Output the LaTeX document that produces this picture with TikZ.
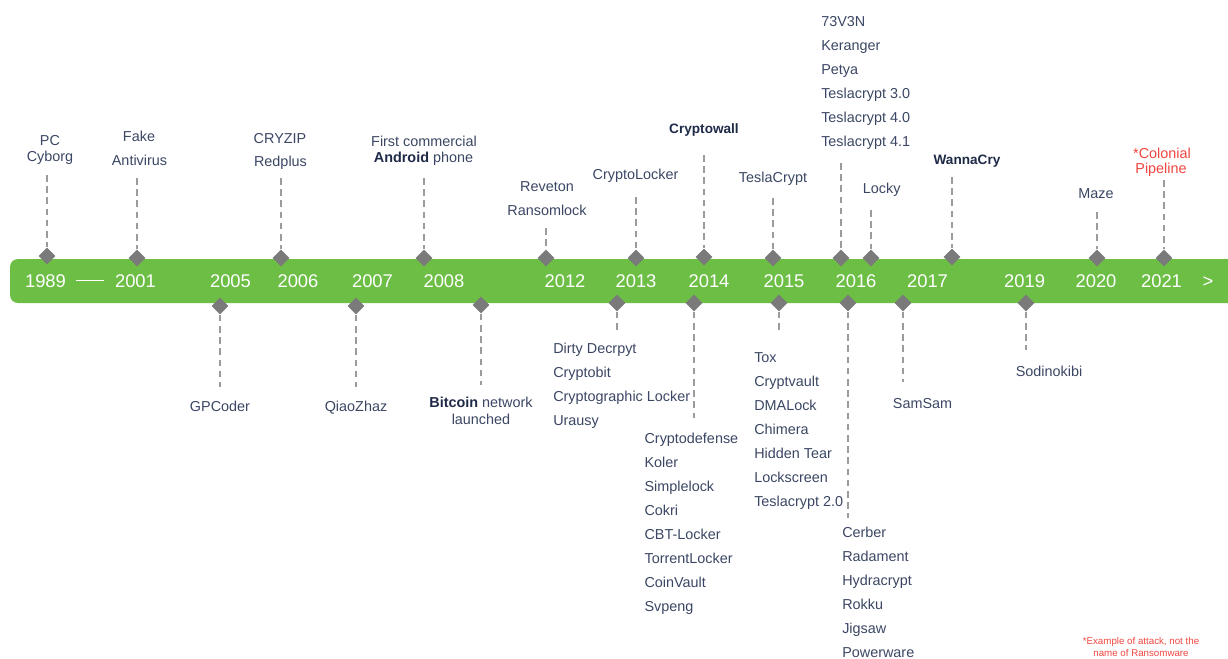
\documentclass[tikz,border=0pt]{standalone}
\usepackage{fontspec}
\setmainfont{Liberation Sans}
\usetikzlibrary{shapes.geometric}
\definecolor{barg}{HTML}{6CBE45}
\definecolor{txt}{HTML}{3A4663}
\definecolor{txtdark}{HTML}{1E2A47}
\definecolor{redtxt}{HTML}{F0453F}
\definecolor{mkgray}{HTML}{7A7A7A}
\definecolor{dashgray}{HTML}{9B9B9B}
\tikzset{
  lbl/.style={font=\fontsize{10.8}{13}\selectfont, text=txt, inner sep=0pt, anchor=base},
  lbll/.style={lbl, anchor=base west},
  bld/.style={lbl, font=\fontsize{10.2}{13}\selectfont\bfseries, text=txtdark},
  redlbl/.style={lbl, text=redtxt},
  note/.style={font=\fontsize{7.3}{9}\selectfont, text=redtxt, inner sep=0pt, anchor=base},
  yr/.style={font=\fontsize{13.8}{16}\selectfont, text=white, inner sep=0pt, anchor=base},
  mk/.style={diamond, fill=mkgray, minimum width=12.8pt, minimum height=12.8pt, inner sep=0pt, aspect=1},
  conn/.style={draw=dashgray, line width=1.5pt, dash pattern=on 5pt off 3.4pt}
}
\begin{document}
\begin{tikzpicture}[x=0.75pt,y=-0.75pt]
\useasboundingbox (0,0) rectangle (1228,658);
\begin{scope}
\clip (0,0) rectangle (1228,658);
\fill[barg, rounded corners=6pt] (10,259) rectangle (1250,303);
\end{scope}

% years
\node[yr] (y1989) at (45.5,287.7) {1989};
\node[yr] (ydash) at (90,287.7) {\rule[5pt]{21pt}{1.1pt}};
\node[yr] (y2001) at (135.5,287.7) {2001};
\node[yr] (y2005) at (230.5,287.7) {2005};
\node[yr] (y2006) at (298,287.7) {2006};
\node[yr] (y2007) at (372.5,287.7) {2007};
\node[yr] (y2008) at (444,287.7) {2008};
\node[yr] (y2012) at (565,287.7) {2012};
\node[yr] (y2013) at (636,287.7) {2013};
\node[yr] (y2014) at (709,287.7) {2014};
\node[yr] (y2015) at (784,287.7) {2015};
\node[yr] (y2016) at (856,287.7) {2016};
\node[yr] (y2017) at (927.5,287.7) {2017};
\node[yr] (y2019) at (1024.7,287.7) {2019};
\node[yr] (y2020) at (1096,287.7) {2020};
\node[yr] (y2021) at (1161.5,287.7) {2021};
\node[yr] (ymore) at (1208,287.7) {>};

% top markers
\node[mk] (d1) at (47,256) {};
\node[mk] (d2) at (137,258) {};
\node[mk] (d3) at (281,258) {};
\node[mk] (d4) at (424,258) {};
\node[mk] (d5) at (546,258) {};
\node[mk] (d6) at (636,258) {};
\node[mk] (d7) at (704,257) {};
\node[mk] (d8) at (773,258) {};
\node[mk] (d9) at (841,258) {};
\node[mk] (d10) at (871,258) {};
\node[mk] (d11) at (952,257) {};
\node[mk] (d12) at (1097,258) {};
\node[mk] (d13) at (1164,258) {};
% bottom markers
\node[mk] (b1) at (220,306) {};
\node[mk] (b2) at (356,306) {};
\node[mk] (b3) at (481,305) {};
\node[mk] (b4) at (617,303) {};
\node[mk] (b5) at (694,303) {};
\node[mk] (b6) at (779,303) {};
\node[mk] (b7) at (848,303) {};
\node[mk] (b8) at (903,303) {};
\node[mk] (b9) at (1026,303) {};

% connector free ends
\coordinate (t1) at (47,175);
\coordinate (t2) at (137,178);
\coordinate (t3) at (281,178);
\coordinate (t4) at (424,178);
\coordinate (t5) at (546,228);
\coordinate (t6) at (636,197);
\coordinate (t7) at (704,155);
\coordinate (t8) at (773,198);
\coordinate (t9) at (841,163);
\coordinate (t10) at (871,210);
\coordinate (t11) at (952,177);
\coordinate (t12) at (1097,212);
\coordinate (t13) at (1164,180);
\coordinate (e1) at (220,387);
\coordinate (e2) at (356,387);
\coordinate (e3) at (481,385);
\coordinate (e4) at (617,333);
\coordinate (e5) at (694,418);
\coordinate (e6) at (779,333);
\coordinate (e7) at (848,518);
\coordinate (e8) at (903,382);
\coordinate (e9) at (1026,350);

\foreach \n in {1,...,13} \draw[conn] (t\n) -- (d\n.north);
\foreach \n in {1,...,9} \draw[conn] (b\n.south) -- (e\n);

% top labels
\node[lbl] (l1a) at (50,145) {PC};
\node[lbl] (l1b) at (50,161) {Cyborg};
\node[lbl] (l2a) at (139,141.7) {Fake};
\node[lbl] (l2b) at (139.5,165) {Antivirus};
\node[lbl] (l3a) at (280,143.3) {CRYZIP};
\node[lbl] (l3b) at (280.5,166.5) {Redplus};
\node[lbl] (l4a) at (424,146) {First commercial};
\node[lbl] (l4b) at (423.5,162.7) {{\bfseries\color{txtdark}Android} phone};
\node[lbl] (l5a) at (547,191) {Reveton};
\node[lbl] (l5b) at (547,215) {Ransomlock};
\node[lbl] (l6) at (635.5,179) {CryptoLocker};
\node[bld] (l7) at (704,133) {Cryptowall};
\node[lbl] (l8) at (773,182) {TeslaCrypt};
\foreach \t [count=\i from 0] in {73V3N,Keranger,Petya,Teslacrypt 3.0,Teslacrypt 4.0,Teslacrypt 4.1}
  \node[lbll] (l9-\i) at (821,{26+24*\i}) {\t};
\node[lbl] (l10) at (881.7,193) {Locky};
\node[bld] (l11) at (967,164) {WannaCry};
\node[lbl] (l12) at (1096,198) {Maze};
\node[redlbl] (l13a) at (1162,158) {*Colonial};
\node[redlbl] (l13b) at (1161,173) {Pipeline};

% bottom labels
\node[lbl] (m1) at (220,411) {GPCoder};
\node[lbl] (m2) at (356,411) {QiaoZhaz};
\node[lbl] (m3a) at (481,407) {{\bfseries\color{txtdark}Bitcoin} network};
\node[lbl] (m3b) at (481,424) {launched};
\foreach \t [count=\i from 0] in {Dirty Decrpyt,Cryptobit,Cryptographic Locker,Urausy}
  \node[lbll] (m4-\i) at (553,{353+24*\i}) {\t};
\foreach \t [count=\i from 0] in {Cryptodefense,Koler,Simplelock,Cokri,CBT-Locker,TorrentLocker,CoinVault,Svpeng}
  \node[lbll] (m5-\i) at (644.3,{443+24*\i}) {\t};
\foreach \t [count=\i from 0] in {Tox,Cryptvault,DMALock,Chimera,Hidden Tear,Lockscreen,Teslacrypt 2.0}
  \node[lbll] (m6-\i) at (754,{362+24*\i}) {\t};
\foreach \t [count=\i from 0] in {Cerber,Radament,Hydracrypt,Rokku,Jigsaw,Powerware}
  \node[lbll] (m7-\i) at (842,{537+24*\i}) {\t};
\node[lbl] (m8) at (922.5,408) {SamSam};
\node[lbl] (m9) at (1049,376) {Sodinokibi};

% footnote
\node[note] (n1) at (1141,644) {*Example of attack, not the};
\node[note] (n2) at (1141,656) {name of Ransomware};
\end{tikzpicture}
\end{document}
